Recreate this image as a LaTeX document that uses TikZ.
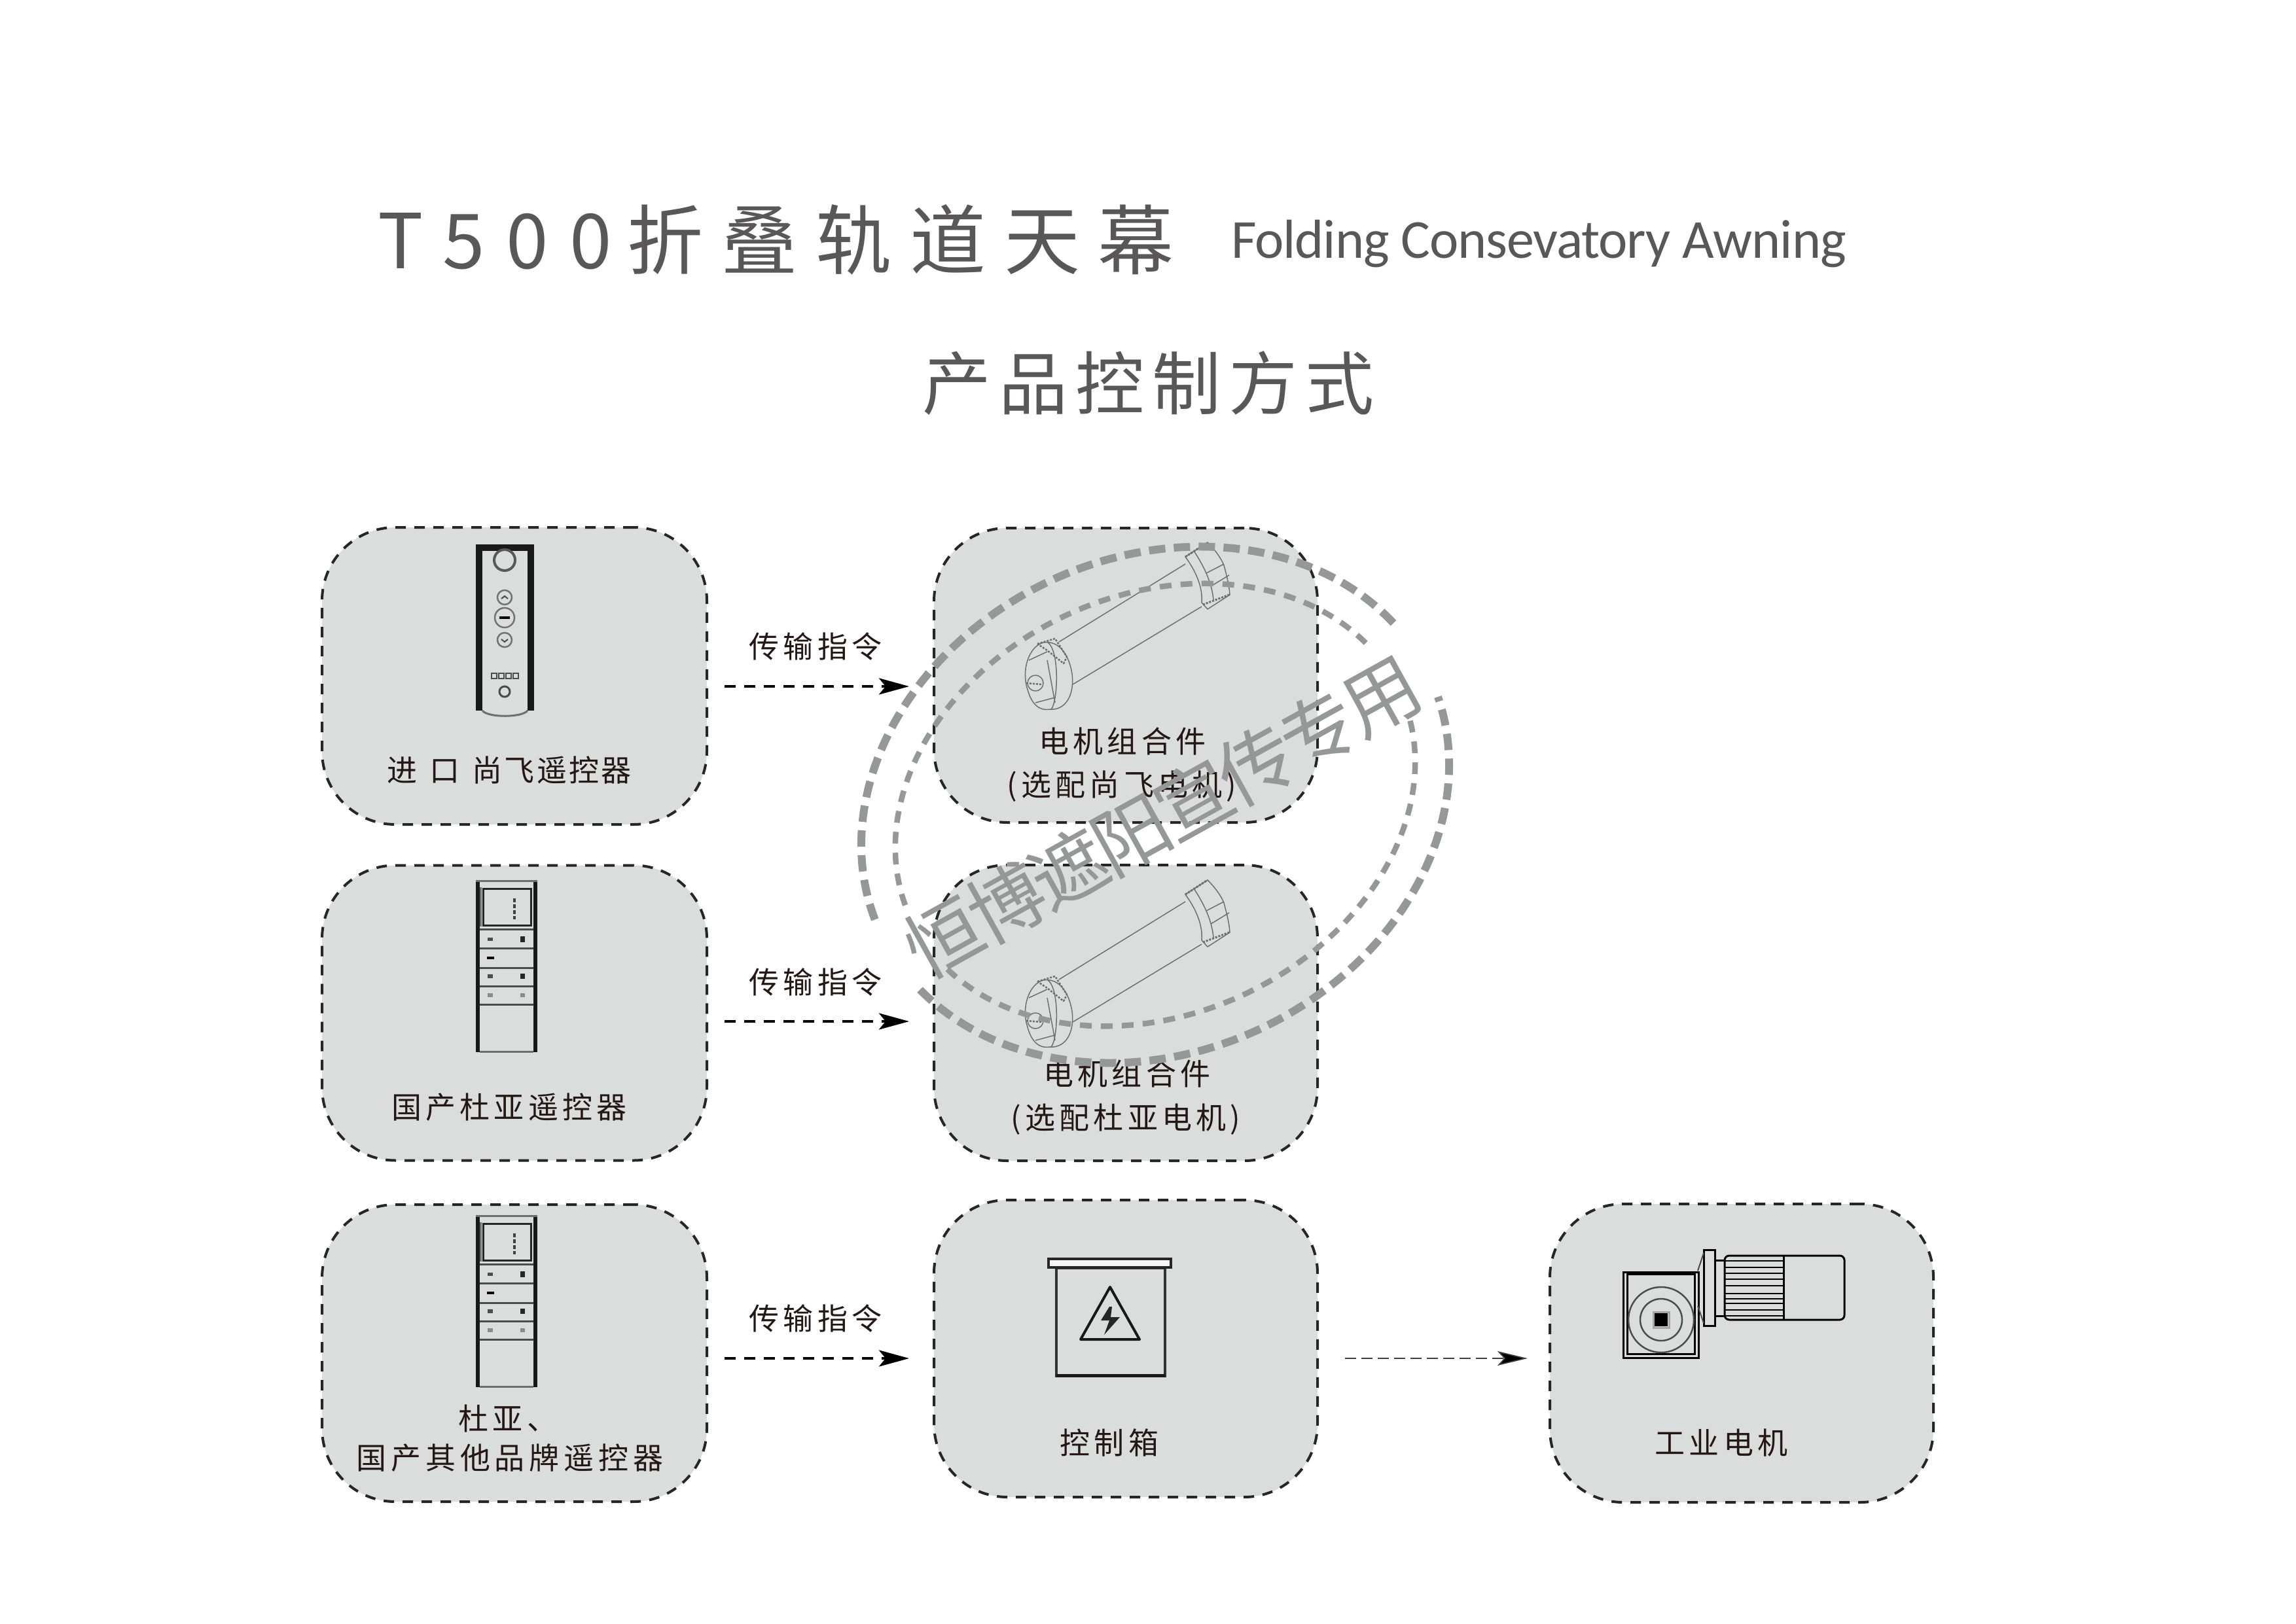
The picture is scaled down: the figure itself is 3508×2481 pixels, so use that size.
\documentclass[tikz,border=0pt]{standalone}
\usepackage{fontspec}
\usetikzlibrary{arrows.meta,calc}
\newfontfamily\cjk{Noto Sans CJK SC}
\newfontfamily\latinname{Carlito}
\definecolor{boxfill}{HTML}{DBDDDD}
\definecolor{titlegray}{HTML}{595757}
\definecolor{labelink}{HTML}{231815}
\definecolor{markgray}{HTML}{969797}
\definecolor{partgray}{HTML}{6E6F6F}
\tikzset{
  panel/.style={draw=black!85,fill=boxfill,line width=4pt,dash pattern=on 16pt off 13pt,rounded corners=112pt,minimum width=#1,inner sep=0pt},
  panel/.default=588pt,
  lab/.style={text=labelink,inner sep=0pt,font=\cjk\fontsize{46}{62}\selectfont\addfontfeature{LetterSpace=13.5},align=center},
  flow/.style={draw=black,line width=4pt,dash pattern=on 17pt off 13pt,-{Stealth[length=46pt,width=25pt,inset=10pt]}},
  thinflow/.style={draw=black!75,line width=1.6pt,dash pattern=on 17pt off 8pt,-{Stealth[length=46pt,width=22pt,inset=10pt,fill=black]}},
  stampouter/.style={draw=markgray,line width=12pt,dash pattern=on 25pt off 13pt},
  stampinner/.style={draw=markgray,line width=8.5pt,dash pattern=on 18pt off 14pt},
  tubeline/.style={draw=partgray,line width=1.5pt,line join=round},
  gear/.style={draw=black,line width=3pt},
}
\newcommand{\remoteB}[1]{%
  \begin{scope}[shift={(0,#1)}]
    \draw[black!90,line width=6pt] (730,1345) -- (730,1608) (818,1345) -- (818,1608);
    \draw[partgray,line width=3pt] (727,1346) -- (821,1346);
    \draw[partgray,line width=3pt] (733,1607) -- (815,1607);
    \draw[black!85,line width=3pt] (738,1358) rectangle (811,1414);
    \draw[partgray,line width=3pt] (734,1356) -- (734,1416);
    \draw[black!75,line width=4pt,dash pattern=on 6pt off 3pt] (786,1373) -- (786,1405);
    \foreach \ly in {1420,1449,1479,1507,1535}
      \draw[black!70,line width=3pt] (733,\ly) -- (815,\ly);
    \fill[black!70] (745,1433) rectangle (753,1438);
    \fill[black!85] (795,1431) rectangle (802,1440);
    \fill[black] (744,1462) rectangle (755,1466);
    \fill[black!70] (745,1489) rectangle (753,1495);
    \fill[black!85] (795,1488) rectangle (802,1496);
    \fill[black!45] (745,1518) rectangle (753,1524);
    \fill[black!45] (795,1518) rectangle (802,1524);
  \end{scope}}
\newcommand{\tubemotor}[1]{%
  \begin{scope}[shift={(0,#1)}]
    \draw[tubeline] (1618,1497) -- (1811,1378) (1639,1562) -- (1836,1443);
    % drive end
    \draw[tubeline] (1594,1498) .. controls (1572,1504) and (1560,1540) .. (1570,1570)
      .. controls (1576,1592) and (1588,1603) .. (1604,1600)
      .. controls (1628,1602) and (1642,1578) .. (1638,1546)
      .. controls (1634,1520) and (1620,1494) .. (1594,1498) -- cycle;
    \draw[tubeline] (1600,1497) .. controls (1620,1510) and (1616,1590) .. (1606,1600);
    \draw[tubeline,line width=2.5pt,dash pattern=on 3pt off 2pt] (1585,1500) -- (1612,1492) -- (1630,1520) -- (1625,1530) -- (1600,1510) -- cycle;
    \draw[tubeline] (1572,1525) -- (1600,1512) (1600,1525) -- (1612,1590) (1582,1590) -- (1612,1582);
    \draw[tubeline] (1582,1560) circle[radius=12pt];
    \draw[tubeline,line width=2.5pt,dash pattern=on 3pt off 2pt] (1568,1560) -- (1592,1562);
    % idle end ring
    \draw[tubeline] (1811,1367) -- (1845,1345) .. controls (1858,1358) and (1866,1370) .. (1870,1380)
      .. controls (1874,1395) and (1878,1410) .. (1879,1425) -- (1845,1447) -- (1836,1437)
      .. controls (1838,1415) and (1828,1390) .. (1811,1367) -- cycle;
    \draw[tubeline] (1824,1358) .. controls (1842,1385) and (1852,1410) .. (1854,1433);
    \draw[tubeline] (1843,1392) -- (1870,1378) (1850,1412) -- (1878,1395);
    \draw[tubeline,line width=3pt,dash pattern=on 3pt off 2pt] (1811,1367) -- (1845,1345);
    \draw[tubeline,line width=3pt,dash pattern=on 3pt off 2pt] (1838,1440) -- (1878,1425);
  \end{scope}}
\begin{document}
\begin{tikzpicture}[x=1pt,y=-1pt]
\useasboundingbox (0,0) rectangle (3508,2481);

% panels
\node[panel,minimum height=454pt] (p1) at (786,1033) {};
\node[panel,minimum height=451pt] (p2) at (786,1548) {};
\node[panel,minimum height=454pt] (p3) at (786,2068) {};
\node[panel,minimum width=586pt,minimum height=450pt] (m1) at (1720,1032) {};
\node[panel,minimum width=586pt,minimum height=452pt] (m2) at (1720,1548) {};
\node[panel,minimum width=586pt,minimum height=454pt] (c1) at (1720,2061) {};
\node[panel,minimum width=586pt,minimum height=456pt] (i1) at (2661,2068) {};

% titles
\node[anchor=west,inner sep=0pt,text=titlegray,font=\cjk\fontsize{116}{120}\selectfont] (title) at (577,366)
  {T\kern30pt{\addfontfeature{LetterSpace=28}500}\hspace{24pt}\addfontfeature{LetterSpace=24}折叠轨道天幕};
\node[anchor=west,inner sep=0pt,text=titlegray,font=\latinname\fontsize{84}{90}\selectfont\addfontfeature{LetterSpace=-1.3}] (subtitle) at (1881,373) {Folding Consevatory Awning};
\node[anchor=west,inner sep=0pt,text=titlegray,font=\cjk\fontsize{105}{110}\selectfont\addfontfeature{LetterSpace=11.5}] (subhead) at (1409,586) {产品控制方式};

% remote one
\draw[black!90,line width=10pt] (732,1086) -- (732,837) -- (811,837) -- (811,1086);
\draw[partgray,line width=3pt] (737,1086) .. controls (745,1097) and (798,1097) .. (806,1086);
\draw[black!65,line width=4pt] (771,856) circle[radius=16pt];
\draw[black!55,line width=2.5pt] (771,913) circle[radius=11pt] (771,944) circle[radius=15pt] (771,978) circle[radius=11pt];
\fill[black] (763,942) rectangle (779,946);
\draw[black!70,line width=2pt] (766,915) -- (771,911) -- (776,915) (766,977) -- (771,981) -- (776,977);
\foreach \dx in {755,766,777,788}
  \draw[black!70,line width=2.5pt,fill=boxfill] (\dx-4,1029) rectangle (\dx+4,1037);
\draw[black!70,line width=3pt] (771,1057) circle[radius=8pt];

\remoteB{0}
\remoteB{512}

% motors
\tubemotor{-516}
\tubemotor{0}

% control box
\draw[black!80,line width=3.5pt] (1614,1938) rectangle (1780,2103);
\draw[black!90,line width=5pt] (1614,2102) -- (1780,2102);
\draw[black!85,fill=white!75!boxfill,line width=4.5pt] (1602,1924) rectangle (1789,1937);
\draw[black!90,line width=4pt,line join=round] (1696,1967) -- (1741,2047) -- (1651,2047) -- cycle;
\fill[black!85] (1695,1997) -- (1682,2018) -- (1695,2018) -- (1687,2040) -- (1711,2013) -- (1697,2013) -- (1699,1997) -- cycle;

% industrial motor
\draw[gear] (2480,1944) rectangle (2595,2075);
\draw[gear] (2486,1946) rectangle (2589,2069);
\draw[black,line width=5pt] (2486,1946) -- (2589,1946);
\draw[black!70,line width=2.5pt] (2538,2017) circle[radius=50pt];
\draw[black!70,line width=2.5pt] (2538,2017) circle[radius=32pt];
\draw[black!35,line width=3pt] (2526,2005) rectangle (2550,2029);
\fill[black] (2528,2007) rectangle (2548,2027);
\draw[gear] (2603,1910) rectangle (2620,2026);
\draw[black!70,line width=2pt] (2594,1942) -- (2603,1915) (2594,1996) -- (2603,2022);
\draw[gear] (2620,1926) -- (2634,1926) (2620,2011) -- (2634,2011);
\draw[gear,rounded corners=7pt] (2635,1919) -- (2818,1919) -- (2818,2017) -- (2635,2017) -- cycle;
\draw[gear] (2725,1919) -- (2725,2017);
\foreach \fy in {1927,1937,1946,1955,1965,1977,1985,1992,2002,2011}
  \draw[black,line width=2.5pt] (2635,\fy) -- (2727,\fy);

% labels
\node[lab] (t1) at (778,1177) {进\hspace{19pt}口\hspace{19pt}\addfontfeature{LetterSpace=7}尚飞遥控器};
\node[lab] (t2) at (778,1692) {国产杜亚遥控器};
\node[lab] (t3a) at (776,2168) {杜亚、};
\node[lab,font=\cjk\fontsize{46}{62}\selectfont\addfontfeature{LetterSpace=15}] (t3b) at (779,2228) {国产其他品牌遥控器};
\node[lab] (t4a) at (1715,1133) {电机组合件};
\node[lab] (t4b) at (1714,1202) {(选配尚飞电机)};
\node[lab] (t5a) at (1722,1641) {电机组合件};
\node[lab] (t5b) at (1720,1711) {(选配杜亚电机)};
\node[lab] (t6) at (1695,2205) {控制箱};
\node[lab] (t7) at (2630,2205) {工业电机};
\node[lab] (a1) at (1246,988) {传输指令};
\node[lab] (a2) at (1246,1501) {传输指令};
\node[lab] (a3) at (1246,2015) {传输指令};

% connectors
\draw[flow,shorten <=25pt,shorten >=36pt] ([yshift=-16pt]p1.east) -- ([yshift=-17pt]m1.west);
\draw[flow,shorten <=25pt,shorten >=36pt] ([yshift=-13pt]p2.east) -- ([yshift=-13pt]m2.west);
\draw[flow,shorten <=25pt,shorten >=36pt] ([yshift=-8pt]p3.east) -- ([yshift=-15pt]c1.west);
\draw[thinflow,shorten <=40pt,shorten >=32pt] ([yshift=-15pt]c1.east) -- ([yshift=-8pt]i1.west);

% stamp
\begin{scope}[shift={(1765,1230)},x=1pt,y=1pt,rotate=25]
  \draw[stampouter] (15:463 and 378) arc[start angle=15,end angle=177,x radius=463,y radius=378];
  \draw[stampouter] (196:463 and 378) arc[start angle=196,end angle=355,x radius=463,y radius=378];
  \draw[stampinner] (16:412 and 320) arc[start angle=16,end angle=176,x radius=412,y radius=320];
  \draw[stampinner] (197:412 and 320) arc[start angle=197,end angle=353,x radius=412,y radius=320];
\end{scope}
\node[rotate=29,inner sep=0pt,text=markgray,font=\cjk\fontsize{116}{120}\selectfont\addfontfeature{LetterSpace=-6}] (stamptext) at (1776,1248) {恒博遮阳宣传专用};
\end{tikzpicture}
\end{document}
